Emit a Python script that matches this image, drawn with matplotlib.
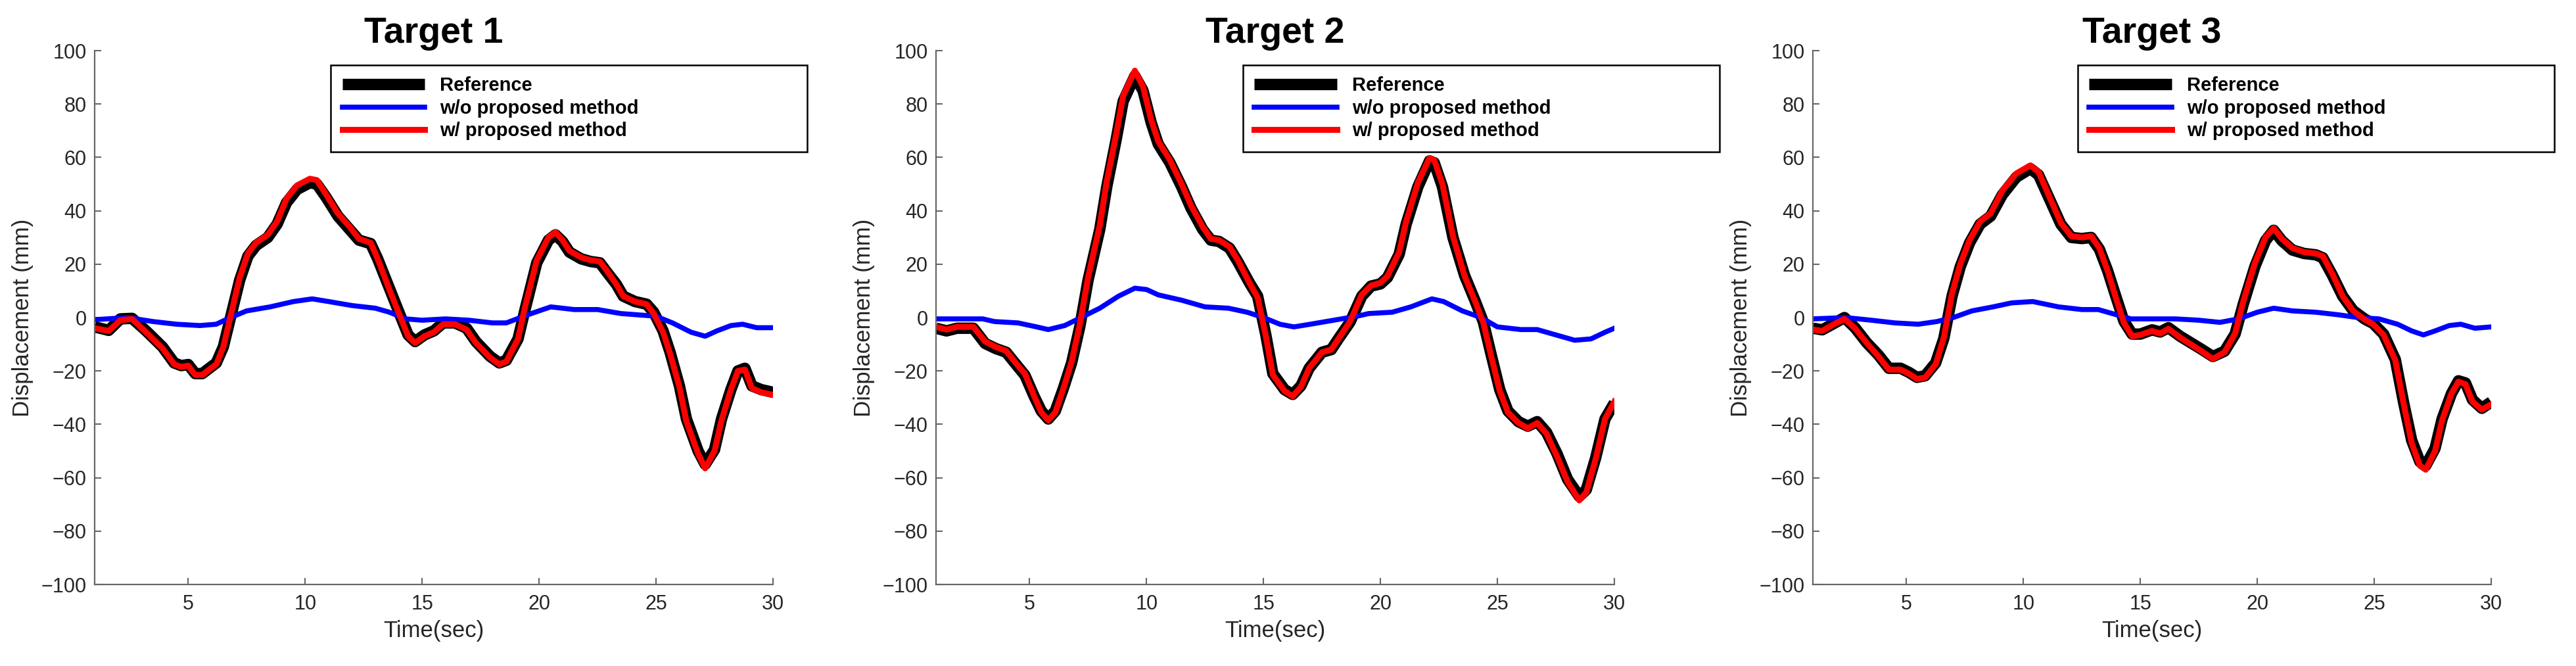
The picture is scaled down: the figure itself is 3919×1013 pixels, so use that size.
import numpy as np
from matplotlib import pyplot as plt

# Target 1
t1 = [1.0, 1.6, 2.1, 2.6, 3.2, 3.9, 4.4, 4.7, 5.0, 5.3, 5.6, 6.2, 6.5, 6.85, 7.2, 7.55, 7.9, 8.4, 8.8, 9.2,
      9.65, 10.2, 10.5, 10.9, 11.4, 11.9, 12.3, 12.8, 13.1, 13.6, 14.1, 14.4, 14.7, 15.1, 15.5, 15.9, 16.4,
      16.9, 17.3, 17.9, 18.3, 18.6, 19.1, 19.4, 19.9, 20.4, 20.7, 21.0, 21.3, 21.8, 22.2, 22.6, 22.9, 23.3,
      23.6, 24.1, 24.6, 24.9, 25.3, 25.6, 26.0, 26.3, 26.8, 27.1, 27.5, 27.8, 28.2, 28.5, 28.8, 29.1, 29.5, 30.0]
ref1 = [-3.5, -4.8, -0.5, -0.3, -5, -11, -17, -18, -17.6, -21, -21, -17, -11, 1.5, 14, 23, 27, 30, 35, 43,
        48, 50.5, 50, 45, 38, 33, 29, 27.7, 22, 11, 0, -6.5, -9, -6.5, -5, -2, -2,
        -4, -9, -14.5, -17, -16, -8, 3, 20.5, 29, 31, 28.5, 24.5, 22, 21, 20.5, 17, 12.5,
        8, 6, 5, 2, -5, -13, -25.6, -38, -50, -55, -49.5, -38, -27, -20, -19, -25.6, -27, -28]
est1 = [-4, -5, -1, -0.5, -5.5, -11.5, -17.5, -18.5, -18, -21.5, -21.5, -17.5, -11, 2, 15, 24, 28, 31, 36, 44.5,
        49.5, 52, 51.5, 46, 39, 34, 29.5, 28, 22, 10.5, -0.5, -7, -9.5, -7, -5.5, -2.5, -2.5,
        -4.5, -9.5, -15, -17.5, -16.5, -8, 4, 21.5, 30, 32, 29, 25, 22.5, 21.5, 21, 17.5, 12.5,
        8, 6, 5, 1.5, -5.5, -13.5, -26, -39, -51, -56.5, -50, -38.5, -27, -20, -19.5, -26.5, -28, -29]
tb1 = [1.0, 2.4, 3.5, 4.5, 5.5, 6.2, 6.8, 7.5, 8.5, 9.5, 10.3, 11.0, 12.0, 13.0, 13.6, 14.3, 15.0, 16.0,
       17.0, 18.0, 18.6, 19.5, 20.5, 21.5, 22.5, 23.5, 25.0, 25.7, 26.5, 27.1, 27.6, 28.2, 28.7, 29.3, 30.0]
wo1 = [-0.8, 0, -1.5, -2.5, -3, -2.5, 0, 2.5, 4, 6, 7, 6, 4.5, 3.5, 2, -0.5, -1, -0.5,
       -1, -2, -2, 1, 4, 3, 3, 1.5, 0.5, -2, -5.5, -7, -5, -3, -2.5, -3.8, -3.8]

# Target 2
t2 = [1.0, 1.45, 1.9, 2.6, 3.1, 3.55, 4.0, 4.5, 4.8, 5.2, 5.5, 5.8, 6.1, 6.45, 6.8, 7.15, 7.5, 8.0, 8.3, 8.7,
      9.0, 9.5, 9.85, 10.2, 10.5, 11.0, 11.5, 11.9, 12.4, 12.75, 13.1, 13.55, 13.9, 14.4, 14.75, 15.1, 15.4,
      15.9, 16.25, 16.6, 16.95, 17.5, 17.9, 18.2, 18.7, 19.2, 19.6, 20.0, 20.3, 20.8, 21.1, 21.6, 22.1, 22.3,
      22.65, 23.1, 23.6, 24.05, 24.4, 24.75, 25.1, 25.45, 25.9, 26.3, 26.7, 27.1, 27.55, 28.0, 28.5, 28.8,
      29.2, 29.6, 30.0]
ref2 = [-4, -5, -4, -4, -9.7, -11.6, -13, -18.4, -21.6, -29.6, -35, -38, -35, -26.4, -16.9, -3.3, 14, 33, 49, 66.6,
        81, 90.5, 85, 73, 65, 58, 49, 41, 33, 29, 28.5, 26, 21, 13, 8, -6.5, -21,
        -27, -28.8, -25.6, -19, -13, -12, -8, -1.7, 8, 11.8, 12.6, 15, 23.7, 35, 49, 58.7, 58,
        49, 30, 15.7, 6.2, -1.7, -14.5, -27, -35, -39, -40.7, -39, -43, -51, -60.6, -67, -64.5,
        -52.6, -38, -32]
est2 = [-3.5, -4.5, -3.5, -3.5, -9, -11, -12.5, -18, -21, -29.5, -35.5, -38.5, -35.5, -26.5, -16.5, -2.5, 15, 34.5, 51, 68.5,
        83, 92.5, 86.5, 74, 66, 59, 50, 42, 34, 29.5, 29, 26.5, 21.5, 13, 7.5, -7, -21.5,
        -27.5, -29.5, -26, -19, -13, -12, -8, -1.5, 8.5, 12, 13, 15.5, 24.5, 36, 50.5, 59.8, 59,
        50, 30.5, 15.5, 6, -2, -15, -27.5, -35.5, -39.5, -41.5, -39.5, -43.5, -52, -61.5, -68.5, -65.5,
        -53, -38, -31.5]
tb2 = [1.0, 2.0, 3.0, 3.5, 4.5, 5.3, 5.8, 6.5, 7.2, 8.0, 8.8, 9.5, 10.0, 10.5, 11.5, 12.5, 13.5, 14.3, 15.0,
       15.7, 16.3, 17.0, 18.0, 19.0, 19.5, 20.5, 21.3, 22.2, 22.7, 23.5, 24.3, 25.0, 26.0, 26.7, 27.5, 28.3,
       29.0, 29.6, 30.0]
wo2 = [-0.5, -0.5, -0.5, -1.5, -2, -3.5, -4.5, -3, 0, 3.5, 8, 11, 10.5, 8.5, 6.5, 4, 3.5, 2, 0,
       -2.5, -3.5, -2.5, -1, 0.5, 1.5, 2, 4, 7, 6, 2.5, 0, -3.5, -4.5, -4.5, -6.5, -8.5,
       -8, -5.5, -4]

# Target 3
t3 = [1.0, 1.4, 1.9, 2.35, 2.8, 3.3, 3.8, 4.25, 4.75, 5.1, 5.45, 5.8, 6.25, 6.6, 6.95, 7.3, 7.7, 8.15, 8.6, 9.1,
      9.7, 10.3, 10.65, 11.1, 11.6, 12.05, 12.5, 12.9, 13.25, 13.6, 13.95, 14.3, 14.65, 15.0, 15.5, 15.85,
      16.2, 16.7, 17.15, 17.6, 18.1, 18.6, 19.05, 19.4, 19.9, 20.35, 20.7, 21.05, 21.5, 22.0, 22.5, 22.8,
      23.2, 23.65, 24.1, 24.6, 24.95, 25.4, 25.9, 26.25, 26.6, 26.95, 27.2, 27.6, 27.9, 28.3, 28.6, 28.9,
      29.2, 29.6, 30.0]
ref3 = [-4, -4.6, -2.2, 0, -3.8, -9.4, -14, -19, -19, -20.5, -22.4, -21.8, -17, -7.8, 8, 19, 28, 35, 38, 46,
        52.6, 55.8, 53.4, 44.7, 35, 30, 29.6, 30, 25.6, 17.6, 8, -1.4, -6.2, -6.2, -4.6, -5.4,
        -3.8, -7, -9.4, -11.8, -14.6, -12.6, -6.2, 5, 19.2, 28.8, 32.7, 28.8, 25.3, 24, 23.5, 22.4,
        16, 8, 2.6, -0.6, -2.2, -6.2, -15.7, -31.6, -46, -54, -55.5, -49, -38, -28.5, -23.7, -24.5,
        -30.8, -34, -31.6]
est3 = [-4.5, -5, -2.5, -0.5, -4, -9.5, -14.5, -19.5, -19.5, -21, -23, -22.5, -17.5, -7.5, 9, 20, 29, 36, 39, 47.5,
        54, 57, 54.5, 45.5, 35.5, 30.5, 30, 30.5, 26, 17.5, 7.5, -2, -7, -6.5, -5, -6,
        -4.2, -7.5, -10, -12.5, -15.5, -13, -6, 6, 20.5, 30, 33.5, 29.5, 26, 24.5, 24, 23,
        16.5, 8, 2.5, -0.8, -2.5, -6.5, -16, -32, -47, -55.5, -57, -50, -38.5, -28.5, -24, -25,
        -31.5, -34.5, -32.5]
tb3 = [1.0, 2.4, 3.5, 4.5, 5.5, 6.3, 7.0, 7.8, 8.7, 9.5, 10.4, 11.5, 12.5, 13.2, 14.0, 14.6, 15.5, 16.5,
       17.5, 18.4, 19.2, 20.0, 20.7, 21.5, 22.5, 23.5, 24.3, 25.2, 26.0, 26.6, 27.1, 27.6, 28.2, 28.7, 29.3, 30.0]
wo3 = [-0.5, 0, -1, -2, -2.5, -1.5, 0, 2.5, 4, 5.5, 6, 4, 3, 3, 1, -0.5, -0.5, -0.5,
       -1, -1.8, -0.5, 2, 3.5, 2.5, 2, 1, 0, -0.5, -2.5, -5, -6.5, -5, -3, -2.5, -4, -3.5]

titles = ["Target 1", "Target 2", "Target 3"]
labels = ["Reference", "w/o proposed method", "w/ proposed method"]
xticks = [5, 10, 15, 20, 25, 30]
yticks = [-100, -80, -60, -40, -20, 0, 20, 40, 60, 80, 100]

plt.rcParams['font.family'] = ['Liberation Sans', 'DejaVu Sans']

fig = plt.figure(figsize=(39.19, 10.13), dpi=100)
lefts = [144, 1424, 2758]  # axes left edge, px
legx = [0.348, 0.4525, 0.3905]  # legend left, axes fraction
data = [(t1, ref1, est1, tb1, wo1), (t2, ref2, est2, tb2, wo2), (t3, ref3, est3, tb3, wo3)]
axcol = '#666666'

for i in range(3):
	t, ref, est, tb, wo = data[i]
	ax = fig.add_axes([lefts[i] / 3919, 124 / 1013, 1032 / 3919, 812 / 1013])
	l1, = ax.plot(t, ref, color='k', lw=12.5, solid_joinstyle='round', solid_capstyle='butt')
	l2, = ax.plot(tb, wo, color='#0000ff', lw=5.5, solid_joinstyle='round')
	l3, = ax.plot(t, est, color='#ff0000', lw=6.5, solid_joinstyle='round')
	ax.set_xlim(1, 30)
	ax.set_ylim(-100, 100)
	ax.set_xticks(xticks)
	ax.set_yticks(yticks)
	ax.spines['top'].set_visible(False)
	ax.spines['right'].set_visible(False)
	for s in ['left', 'bottom']:
		ax.spines[s].set_color(axcol)
		ax.spines[s].set_linewidth(1.6)
	ax.tick_params(direction='in', length=7, width=1.5, color=axcol, labelsize=22, labelcolor='#262626')
	ax.tick_params(axis='x', pad=11)
	ax.tick_params(axis='y', pad=9)
	ax.set_xlabel('Time(sec)', fontsize=25, color='#262626', labelpad=6)
	ax.set_ylabel('Displacement (mm)', fontsize=25, color='#262626', labelpad=8)
	ax.set_title(titles[i], fontsize=40, fontweight='bold', pad=5)
	leg = ax.legend([l1, l2, l3], labels, loc='upper left', bbox_to_anchor=(legx[i], 0.973, 725 / 1032, 0),
		mode='expand', borderaxespad=0, fancybox=False, framealpha=1, edgecolor='k',
		prop={'size': 21, 'weight': 'bold'}, handlelength=4.3, handletextpad=0.8,
		labelspacing=0.22, borderpad=0.6)
	leg.get_frame().set_linewidth(1.8)
	leg.set_clip_on(False)

plt.savefig("out.png", dpi=100)
